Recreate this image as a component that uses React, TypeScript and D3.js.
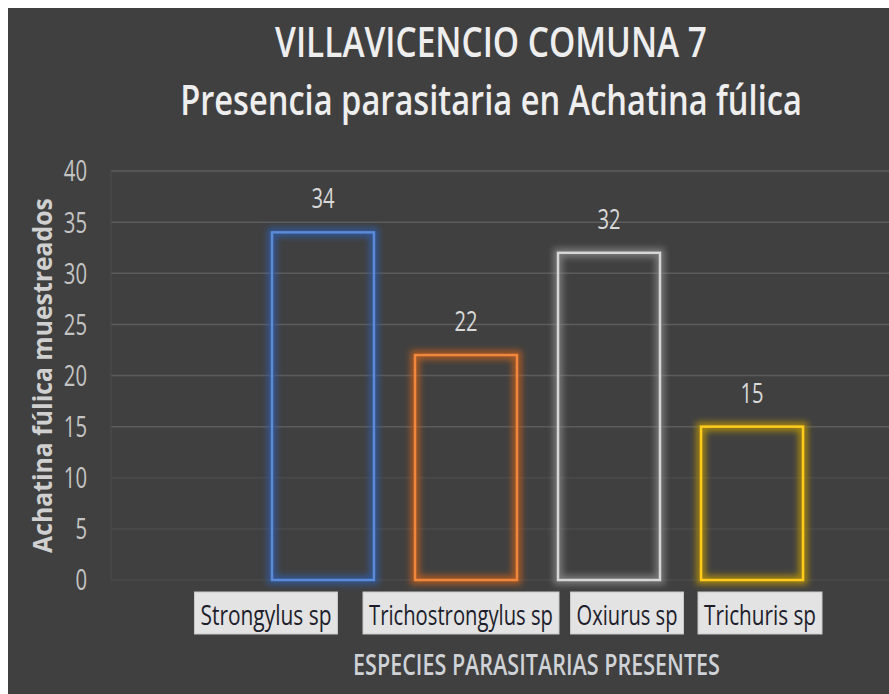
import React, { useLayoutEffect, useRef, useState } from 'react';
import * as d3 from 'd3';

// ---- data ----
const categories = ['Strongylus sp', 'Trichostrongylus sp', 'Oxiurus sp', 'Trichuris sp'];
const values = [34, 22, 32, 15];
const yTicks = [0, 5, 10, 15, 20, 25, 30, 35, 40];
const titleLines = ['VILLAVICENCIO COMUNA 7', 'Presencia parasitaria en Achatina fúlica'];
const xTitle = 'ESPECIES PARASITARIAS PRESENTES';
const yTitle = 'Achatina fúlica muestreados';

// ---- styles / layout (not data) ----
const barStroke = ['#5b8ad9', '#f0873c', '#d6d6d6', '#ffcb1c'];
const barGlow = ['#2d5eae', '#c9611c', '#8c8c8c', '#c49c00'];
const labelShift = [-57, -5, 18, 8];
const labelTextLen = [131, 184, 101, 112];

const W = 889, H = 694, M = 8;
const BG = '#404040';
const FONT = '"Open Sans", "Liberation Sans", sans-serif';

type FitProps = {
  x: number;
  y: number;
  width: number;
  rotate?: number;
  anchor?: 'start' | 'middle' | 'end';
  fontSize: number;
  fontWeight?: number;
  fill: string;
  children: string;
};

function FitText({ x, y, width, rotate = 0, anchor = 'middle', fontSize, fontWeight = 400, fill, children }: FitProps) {
  const ref = useRef<SVGTextElement>(null);
  const [s, setS] = useState(1);
  useLayoutEffect(() => {
    if (ref.current) {
      const n = ref.current.getComputedTextLength();
      if (n > 0) setS(width / n);
    }
  }, [width, children, fontSize]);
  return (
    <g transform={`translate(${x},${y}) rotate(${rotate})`}>
      <text
        ref={ref}
        transform={`scale(${s},1)`}
        textAnchor={anchor}
        fontFamily={FONT}
        fontSize={fontSize}
        fontWeight={fontWeight}
        fill={fill}
      >
        {children}
      </text>
    </g>
  );
}

export default function App() {
  const x = d3.scaleBand<string>().domain(categories).range([272, 803]).paddingInner(0.287).paddingOuter(0);
  const y = d3.scaleLinear().domain([0, 40]).range([580, 171]);
  const plotLeft = 111;
  const plotRight = W;

  return (
    <svg
      width={W - M}
      height={H - M}
      viewBox={`${M} ${M} ${W - M} ${H - M}`}
      style={{ position: 'absolute', left: M, top: M, display: 'block' }}
    >
      <defs>
        {barGlow.map((c, i) => (
          <filter key={i} id={`glow${i}`} x="-30%" y="-30%" width="160%" height="160%">
            <feGaussianBlur in="SourceGraphic" stdDeviation="3.2" />
          </filter>
        ))}
      </defs>
      <rect x={M} y={M} width={W - M} height={H - M} fill={BG} />

      {/* gridlines */}
      {yTicks.map((t) => (
        <line
          key={t}
          x1={plotLeft}
          x2={plotRight}
          y1={y(t)}
          y2={y(t)}
          stroke="#5c5c5c"
          strokeOpacity={t >= 15 ? 1 : 0.35}
          strokeWidth={1.5}
        />
      ))}
      <line x1={plotLeft} x2={plotLeft} y1={y(40)} y2={y(0)} stroke="#4c4c4c" strokeWidth={1} />

      {/* y tick labels */}
      {yTicks.map((t) => (
        <text
          key={t}
          transform={`translate(87,${y(t)}) scale(0.7,1)`}
          dy="0.36em"
          textAnchor="end"
          fontFamily={FONT}
          fontSize={29}
          fill="#c4c4c4"
        >
          {t}
        </text>
      ))}

      {/* bars */}
      {categories.map((c, i) => {
        const bx = x(c)!;
        const bw = x.bandwidth();
        const by = y(values[i]);
        const bh = y(0) - by;
        return (
          <g key={c}>
            <rect x={bx} y={by} width={bw} height={bh} fill="none" stroke={barGlow[i]} strokeWidth={9} strokeOpacity={0.75} filter={`url(#glow${i})`} />
            <rect x={bx} y={by} width={bw} height={bh} fill="none" stroke={barStroke[i]} strokeWidth={2.5} />
            <text
              transform={`translate(${bx + bw / 2},${by - 24}) scale(0.72,1)`}
              textAnchor="middle"
              fontFamily={FONT}
              fontSize={28}
              fill="#d9d9d9"
            >
              {values[i]}
            </text>
          </g>
        );
      })}

      {/* category label boxes */}
      {categories.map((c, i) => {
        const cx = x(c)! + x.bandwidth() / 2 + labelShift[i];
        const tw = labelTextLen[i];
        const bw = tw + 12;
        return (
          <g key={c}>
            <rect x={cx - bw / 2} y={592} width={bw} height={42} fill="#e3e3e3" stroke="#c8c8c8" strokeWidth={1} />
            <FitText x={cx} y={625} width={tw} fontSize={27} fill="#1d1d2b">
              {c}
            </FitText>
          </g>
        );
      })}

      {/* titles */}
      <FitText x={491} y={57} width={432} fontSize={41} fontWeight={600} fill="#eeeeee">
        {titleLines[0]}
      </FitText>
      <FitText x={491} y={115} width={622} fontSize={41} fontWeight={600} fill="#eeeeee">
        {titleLines[1]}
      </FitText>

      {/* axis titles */}
      <FitText x={536.5} y={675} width={367} fontSize={28} fontWeight={600} fill="#cfd2d6">
        {xTitle}
      </FitText>
      <FitText x={52} y={375.5} rotate={-90} width={355} fontSize={26} fontWeight={700} fill="#d0d0d0">
        {yTitle}
      </FitText>
    </svg>
  );
}
